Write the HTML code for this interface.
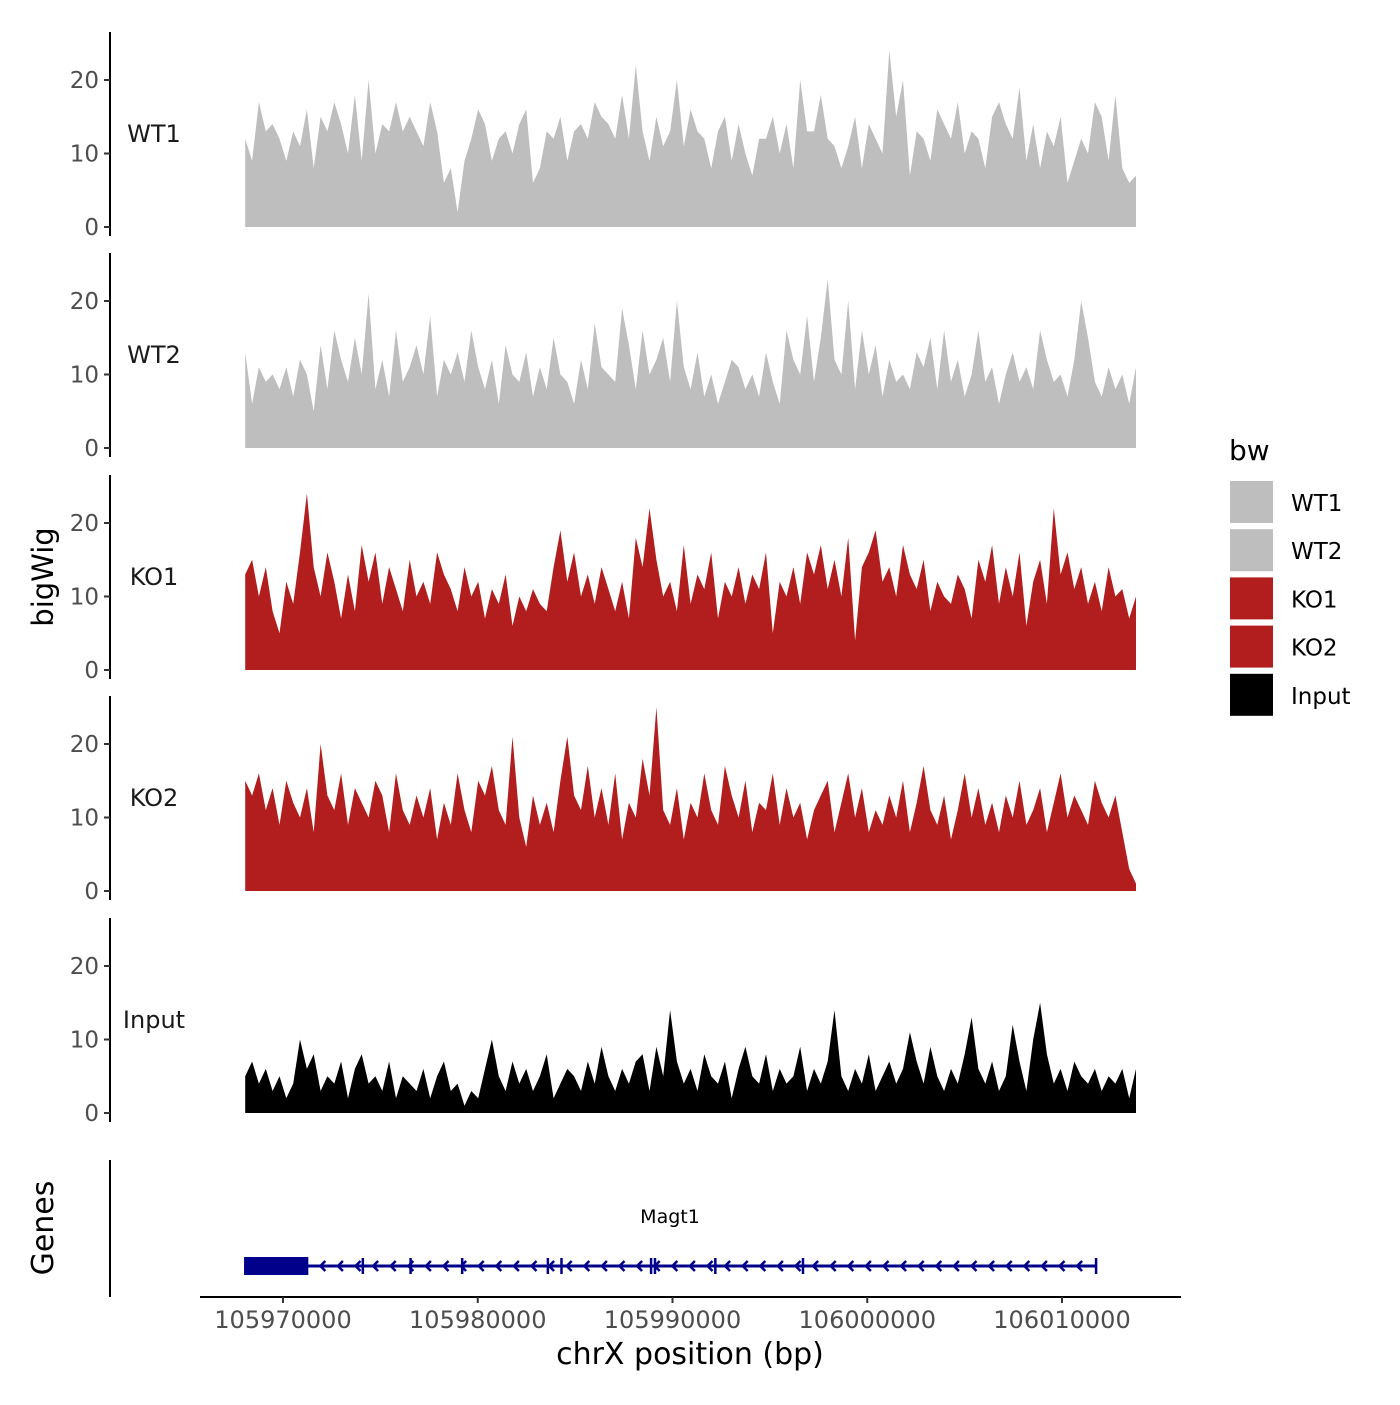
<!DOCTYPE html>
<html><head><meta charset="utf-8"><style>
html,body{margin:0;padding:0;background:#fff;}
svg text{font-family:"DejaVu Sans","Liberation Sans",sans-serif;}
</style></head><body>
<svg id="chart" width="1400" height="1400" xmlns="http://www.w3.org/2000/svg"></svg>
<script>
const trackNames = ["WT1","WT2","KO1","KO2","Input"];
const trackColors = ["#bebebe","#bebebe","#b21e1e","#b21e1e","#000000"];
const wt1 = [12,9,17,13,14,12,9,13,11,16,8,15,13,17,14,10,18,9,20,10,14,13,17,13,15,13,11,17,13,6,8,2,9,12,16,14,9,12,13,10,14,16,6,8,13,12,15,9,13,14,12,17,15,14,12,18,12,22,13,9,15,11,13,20,11,16,13,12,8,13,15,9,14,10,7,12,12,15,10,14,8,20,13,13,18,12,11,8,11,15,8,14,12,10,24,15,20,7,13,12,9,16,14,12,17,10,13,12,8,15,17,14,12,19,9,14,8,13,11,15,6,9,12,10,17,15,9,18,8,6,7];
const wt2 = [13,6,11,9,10,8,11,7,12,10,5,14,8,16,12,9,15,10,21,8,12,7,16,9,11,14,10,18,7,12,10,13,9,16,11,8,12,6,14,10,9,13,7,11,8,15,10,9,6,12,8,17,11,10,9,19,14,8,16,10,12,15,9,20,11,8,13,7,10,6,9,12,11,8,10,7,13,9,6,16,12,10,18,9,15,23,12,10,20,8,16,10,14,7,12,9,10,8,13,11,15,8,16,9,12,7,10,16,9,11,6,10,13,9,11,8,16,12,9,10,7,12,20,15,9,7,11,8,10,6,11];
const ko1 = [13,15,10,14,8,5,12,9,16,24,14,10,16,12,7,13,8,17,12,16,9,14,11,8,15,10,12,9,16,13,11,8,14,10,12,7,11,9,13,6,10,8,11,9,8,14,19,12,16,10,13,9,14,11,8,12,7,18,14,22,15,10,12,8,17,9,13,11,16,7,12,10,14,9,13,11,16,5,12,10,14,9,16,13,17,11,15,10,18,4,14,16,19,12,14,10,17,13,11,15,8,12,10,9,13,11,7,15,12,17,9,14,10,16,6,12,15,9,22,13,16,11,14,9,12,8,14,10,11,7,10];
const ko2 = [15,13,16,11,14,9,15,12,10,14,8,20,13,11,16,9,14,12,10,15,13,8,16,11,9,13,10,14,7,12,9,16,11,8,15,13,17,11,9,21,10,6,13,9,12,8,15,21,13,11,17,10,14,9,16,7,12,10,18,13,25,11,9,14,7,12,10,16,11,9,17,13,10,15,8,12,11,16,9,14,10,12,7,11,13,15,8,12,16,10,14,8,11,9,13,10,15,8,12,17,11,9,13,7,11,16,10,14,9,12,8,13,10,15,9,11,14,8,12,16,10,13,11,9,15,12,10,13,8,3,1];
const input = [5,7,4,6,3,5,2,4,10,6,8,3,5,4,7,2,6,8,4,5,3,7,2,5,4,3,6,2,5,7,3,4,1,3,2,6,10,5,3,7,4,6,3,5,8,2,4,6,5,3,7,4,9,5,3,6,4,7,8,3,9,5,14,7,4,6,3,8,5,4,7,2,6,9,5,4,8,3,6,4,5,9,3,6,4,7,14,5,3,6,4,8,3,5,7,4,6,11,7,4,9,5,3,6,4,8,13,6,4,7,3,5,12,7,3,10,15,8,4,6,3,7,5,4,6,3,5,4,6,2,6];
const trackData = [wt1,wt2,ko1,ko2,input];
const yTicks = [0,10,20];
const xTickLabels = ["105970000","105980000","105990000","106000000","106010000"];
const xTickValues = [105970000,105980000,105990000,106000000,106010000];
const dataStart = 105968060, dataEnd = 106013800;
const geneStart = 105968000, geneEnd = 106011750, thickEnd = 105971300;
const exonPositions = [105974100,105976550,105979200,105983600,105984300,105988900,105989100,105992200,105996700,106011750];

const NS="http://www.w3.org/2000/svg";
const svg=document.getElementById('chart');
function el(tag,attrs,parent){const e=document.createElementNS(NS,tag);for(const k in attrs)e.setAttribute(k,attrs[k]);(parent||svg).appendChild(e);return e;}
const xScale=v=>283+(v-105970000)*(1062-283)/40000;
const zeros=[227,448,670,891,1113];
const pxPerUnit=7.35;

trackData.forEach((arr,t)=>{
  const g=el('g',{});
  
  
  const z=zeros[t];
  const n=arr.length;
  let pts=[[xScale(dataStart),z]];
  arr.forEach((v,i)=>{const x=xScale(dataStart+(dataEnd-dataStart)*i/(n-1));pts.push([x,z-v*pxPerUnit]);});
  pts.push([xScale(dataEnd),z]);
  const p=el('polygon',{points:pts.map(p=>p[0].toFixed(1)+','+p[1].toFixed(1)).join(' '),fill:trackColors[t]},g);
  
  
  const ax=el('line',{x1:110,x2:110,y1:z-195,y2:z+9,stroke:'#000','stroke-width':2},g);
  
  
  yTicks.forEach(tv=>{
    const y=z-tv*pxPerUnit;
    el('line',{x1:104,x2:110,y1:y,y2:y,stroke:'#333','stroke-width':2},g);
    const tx=el('text',{x:99,y:y+8,'text-anchor':'end','font-size':23,fill:'#4d4d4d'},g);
    tx.textContent=tv;
    
    
  });
  const lab=el('text',{x:154,y:z-85,'text-anchor':'middle','font-size':24,fill:'#1a1a1a'},g);
  lab.textContent=trackNames[t];
  
  
});

const yt=el('text',{x:0,y:0,'font-size':29,'text-anchor':'middle',transform:'translate(53,577) rotate(-90)'});
yt.textContent='bigWig';


const gt=el('text',{x:0,y:0,'font-size':30,'text-anchor':'middle',transform:'translate(53,1228) rotate(-90)'});
gt.textContent='Genes';



const ga=el('line',{x1:110,x2:110,y1:1160,y2:1297,stroke:'#000','stroke-width':2});


const gg=el('g',{});


const gy=1266;
el('line',{x1:xScale(geneStart),x2:xScale(geneEnd),y1:gy,y2:gy,stroke:'#00008b','stroke-width':3},gg);
el('rect',{x:xScale(geneStart),y:gy-9,width:xScale(thickEnd)-xScale(geneStart),height:18,fill:'#00008b'},gg);
for(let x=xScale(thickEnd)+12;x<xScale(geneEnd)-5;x+=17.6){
  el('polyline',{points:`${x+5},${gy-5} ${x},${gy} ${x+5},${gy+5}`,fill:'none',stroke:'#00008b','stroke-width':2.5},gg);
}
exonPositions.forEach(v=>{el('line',{x1:xScale(v),x2:xScale(v),y1:gy-8,y2:gy+8,stroke:'#00008b','stroke-width':2.5},gg);});
const gl=el('text',{x:670,y:1223,'text-anchor':'middle','font-size':19,fill:'#000'},gg);
gl.textContent='Magt1';



const xa=el('line',{x1:200,x2:1181,y1:1297,y2:1297,stroke:'#000','stroke-width':2});


xTickValues.forEach((v,i)=>{
  const x=xScale(v);
  el('line',{x1:x,x2:x,y1:1297,y2:1303,stroke:'#333','stroke-width':2});
  const t=el('text',{x:x,y:1328,'text-anchor':'middle','font-size':24,fill:'#4d4d4d'});
  t.textContent=xTickLabels[i];
  
  
});
const xt=el('text',{x:690,y:1364,'text-anchor':'middle','font-size':30});
xt.textContent='chrX position (bp)';



const lg=el('g',{});


const lt=el('text',{x:1229,y:460,'font-size':28},lg);
lt.textContent='bw';


trackNames.forEach((nm,i)=>{
  const y=481+i*48.2;
  const e=el('g',{},lg);
  
  
  el('rect',{x:1230,y:y,width:43,height:42,fill:trackColors[i]},e);
  const t=el('text',{x:1291,y:y+30,'font-size':23},e);
  t.textContent=nm;
});
</script>
</body></html>
